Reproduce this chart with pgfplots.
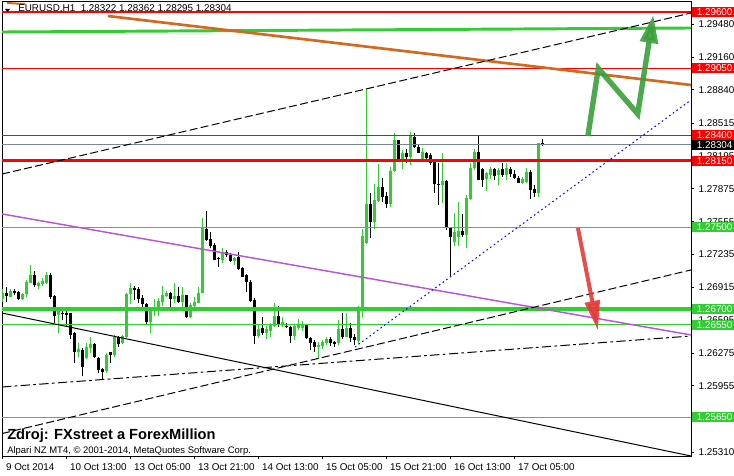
\documentclass[border=0pt]{standalone}
\usepackage{fontspec}
\setmainfont{Liberation Sans}
\usepackage{pgfplots}
\pgfplotsset{compat=1.18}
\usepackage{pgfplotstable}
\usetikzlibrary{arrows.meta}
\definecolor{mtgreen}{RGB}{50,205,50}
\definecolor{mtred}{RGB}{255,0,0}
\definecolor{mtorange}{RGB}{210,105,30}
\definecolor{mtorchid}{RGB}{186,85,211}
\definecolor{mtgray}{RGB}{119,136,153}
\definecolor{arrgreen}{RGB}{58,160,58}
\definecolor{arrred}{RGB}{230,58,58}

% EURUSD H1 candles, bar index i (one bar = one hour), open high low close
\pgfplotstableread{
i o h l c
0 1.26799 1.26896 1.26776 1.26857
2 1.26825 1.26896 1.26818 1.26883
5 1.26802 1.26864 1.26792 1.26851
6 1.26851 1.26987 1.26818 1.26971
7 1.26961 1.27133 1.26955 1.27036
9 1.26929 1.26971 1.26896 1.26955
10 1.26948 1.27007 1.26929 1.26977
11 1.26955 1.27065 1.26948 1.27036
14 1.26646 1.26711 1.26467 1.26685
19 1.26285 1.26376 1.26240 1.26311
21 1.26223 1.26369 1.26214 1.26337
22 1.26327 1.26434 1.26272 1.26363
26 1.26103 1.26272 1.26077 1.26256
28 1.26256 1.26451 1.26240 1.26434
30 1.26369 1.26451 1.26363 1.26441
31 1.26428 1.26857 1.26418 1.26847
32 1.26851 1.26955 1.26753 1.26912
37 1.26581 1.26711 1.26474 1.26685
38 1.26685 1.26805 1.26636 1.26727
39 1.26727 1.26812 1.26636 1.26785
40 1.26776 1.26929 1.26734 1.26841
41 1.26834 1.26883 1.26818 1.26864
43 1.26799 1.26955 1.26760 1.26831
45 1.26776 1.26916 1.26695 1.26841
47 1.26623 1.26760 1.26613 1.26743
48 1.26734 1.26818 1.26727 1.26776
49 1.26767 1.26916 1.26760 1.26864
50 1.26864 1.27588 1.26857 1.27491
55 1.27182 1.27296 1.27150 1.27263
58 1.27172 1.27215 1.27133 1.27198
64 1.26441 1.26548 1.26418 1.26506
66 1.26474 1.26539 1.26418 1.26506
67 1.26493 1.26571 1.26434 1.26548
68 1.26539 1.26766 1.26532 1.26636
70 1.26558 1.26623 1.26532 1.26581
73 1.26441 1.26548 1.26402 1.26539
74 1.26516 1.26604 1.26500 1.26548
75 1.26516 1.26591 1.26493 1.26548
79 1.26337 1.26386 1.26214 1.26353
80 1.26344 1.26402 1.26311 1.26386
81 1.26370 1.26434 1.26353 1.26409
84 1.26370 1.26597 1.26353 1.26506
86 1.26434 1.26669 1.26428 1.26516
89 1.26396 1.26734 1.26363 1.26688
90 1.26688 1.27481 1.26623 1.27416
91 1.27345 1.28846 1.27338 1.27728
93 1.27556 1.27923 1.27481 1.27767
94 1.27761 1.28118 1.27751 1.27897
97 1.27728 1.28086 1.27696 1.28053
98 1.28053 1.28424 1.28043 1.28352
100 1.28151 1.28255 1.28066 1.28229
102 1.28183 1.28433 1.28108 1.28391
105 1.28173 1.28271 1.28140 1.28232
110 1.27913 1.28222 1.27735 1.27952
113 1.27361 1.27637 1.27319 1.27458
114 1.27410 1.27751 1.27319 1.27468
116 1.27426 1.27816 1.27296 1.27790
117 1.27783 1.28125 1.27767 1.28082
118 1.28076 1.28261 1.28060 1.28238
121 1.27969 1.28043 1.27858 1.28027
122 1.28011 1.28092 1.27969 1.28069
124 1.28011 1.28076 1.27913 1.28060
126 1.28011 1.28125 1.27962 1.28076
130 1.27936 1.27994 1.27923 1.27969
131 1.27946 1.28076 1.27930 1.28043
134 1.27832 1.28326 1.27800 1.28322
}\bull

\pgfplotstableread{
i o h l c
1 1.26857 1.26916 1.26776 1.26834
3 1.26883 1.26902 1.26841 1.26864
4 1.26870 1.26883 1.26792 1.26805
8 1.27036 1.27078 1.26916 1.26938
12 1.27036 1.27058 1.26799 1.26825
13 1.26831 1.26841 1.26571 1.26636
15 1.26669 1.26685 1.26597 1.26656
16 1.26662 1.26720 1.26526 1.26646
17 1.26662 1.26662 1.26408 1.26451
18 1.26467 1.26483 1.26175 1.26282
20 1.26305 1.26321 1.26051 1.26142
23 1.26363 1.26376 1.26223 1.26233
24 1.26227 1.26240 1.26077 1.26110
25 1.26116 1.26126 1.26018 1.26090
27 1.26282 1.26288 1.26175 1.26256
29 1.26434 1.26441 1.26337 1.26363
33 1.26912 1.26929 1.26792 1.26896
34 1.26899 1.26916 1.26760 1.26805
35 1.26812 1.26841 1.26711 1.26750
36 1.26750 1.26760 1.26548 1.26581
42 1.26857 1.26874 1.26727 1.26799
44 1.26831 1.26922 1.26760 1.26776
46 1.26841 1.26841 1.26613 1.26623
51 1.27481 1.27660 1.27370 1.27377
52 1.27383 1.27458 1.27296 1.27318
53 1.27328 1.27345 1.27182 1.27182
54 1.27205 1.27215 1.27117 1.27192
56 1.27263 1.27279 1.27215 1.27231
57 1.27231 1.27254 1.27166 1.27176
59 1.27208 1.27263 1.27085 1.27094
60 1.27101 1.27117 1.27013 1.27020
61 1.27036 1.27045 1.26873 1.26971
62 1.26971 1.26987 1.26776 1.26785
63 1.26792 1.26808 1.26363 1.26441
65 1.26516 1.26623 1.26451 1.26467
69 1.26636 1.26734 1.26526 1.26555
71 1.26539 1.26571 1.26516 1.26529
72 1.26532 1.26539 1.26370 1.26441
76 1.26548 1.26548 1.26409 1.26418
77 1.26428 1.26434 1.26305 1.26376
78 1.26386 1.26402 1.26289 1.26337
82 1.26409 1.26428 1.26344 1.26370
83 1.26386 1.26396 1.26337 1.26363
85 1.26506 1.26662 1.26409 1.26434
87 1.26516 1.26565 1.26386 1.26418
88 1.26434 1.26461 1.26353 1.26402
92 1.27728 1.27839 1.27393 1.27556
95 1.27891 1.27978 1.27751 1.27800
96 1.27806 1.27848 1.27686 1.27728
99 1.28352 1.28352 1.28141 1.28151
101 1.28228 1.28261 1.28131 1.28183
103 1.28384 1.28424 1.28271 1.28280
104 1.28287 1.28313 1.28222 1.28228
106 1.28222 1.28238 1.28164 1.28173
107 1.28206 1.28222 1.28108 1.28125
108 1.28157 1.28173 1.27832 1.27923
109 1.27926 1.28131 1.27718 1.27916
111 1.27952 1.27958 1.27475 1.27491
112 1.27500 1.27507 1.27026 1.27403
115 1.27465 1.27631 1.27410 1.27426
119 1.28238 1.28391 1.27962 1.27962
120 1.28066 1.28076 1.27897 1.27962
123 1.28066 1.28082 1.27962 1.28001
125 1.28066 1.28125 1.27994 1.28011
127 1.28066 1.28092 1.27994 1.28020
128 1.28020 1.28060 1.27969 1.27978
129 1.27985 1.28001 1.27930 1.27936
132 1.28043 1.28060 1.27783 1.27865
133 1.27874 1.27913 1.27793 1.27832
135 1.28322 1.28362 1.28295 1.28304
}\bear

\begin{document}
\begin{tikzpicture}[x=0.75pt,y=0.75pt]
\fill[white] (0,0) rectangle (734,475);
\begin{axis}[
    at={(1.5pt,14.25pt)}, anchor=south west,
    scale only axis, width=516.75pt, height=340.5pt,
    xmin=-0.175, xmax=172.075, ymin=1.25271, ymax=1.296975,
    clip mode=individual,
    axis line style={black, line width=0.75pt},
    tick align=outside, major tick length=2.25pt,
    tick style={black, line width=0.75pt},
    xtick pos=left, ytick pos=right, yticklabel pos=right,
    xtick={0,16,...,128},
    xticklabels={9 Oct 2014, 10 Oct 13:00, 13 Oct 05:00, 13 Oct 21:00, 14 Oct 13:00, 15 Oct 05:00, 15 Oct 21:00, 16 Oct 13:00, 17 Oct 05:00},
    ytick={1.29480,1.29160,1.28840,1.28515,1.28195,1.27875,1.27555,1.27235,1.26915,1.26595,1.26275,1.25955,1.25635,1.25310},
    yticklabels={1.29480,1.29160,1.28840,1.28515,1.28195,1.27875,1.27555,1.27235,1.26915,1.26595,1.26275,1.25955,1.25635,1.25310},
    tick label style={font=\fontsize{7.4pt}{8.5pt}\selectfont},
    xticklabel style={anchor=north west, xshift=-1pt},
    yticklabel style={anchor=west},
]
% candles: wicks then bodies
\addplot[draw=none, mark=none, error bars/.cd, y dir=both, y explicit, error mark=none,
    error bar style={draw=mtgreen, line width=0.75pt}]
    table[x=i, y expr={(\thisrow{h}+\thisrow{l})/2}, y error expr={(\thisrow{h}-\thisrow{l})/2}] {\bull};
\addplot[draw=none, mark=none, error bars/.cd, y dir=both, y explicit, error mark=none,
    error bar style={draw=mtgreen, line width=2.25pt}]
    table[x=i, y expr={(\thisrow{o}+\thisrow{c})/2}, y error expr={max(abs(\thisrow{o}-\thisrow{c})/2,0.00004)}] {\bull};
\addplot[draw=none, mark=none, error bars/.cd, y dir=both, y explicit, error mark=none,
    error bar style={draw=black, line width=0.75pt}]
    table[x=i, y expr={(\thisrow{h}+\thisrow{l})/2}, y error expr={(\thisrow{h}-\thisrow{l})/2}] {\bear};
\addplot[draw=none, mark=none, error bars/.cd, y dir=both, y explicit, error mark=none,
    error bar style={draw=black, line width=2.25pt}]
    table[x=i, y expr={(\thisrow{o}+\thisrow{c})/2}, y error expr={max(abs(\thisrow{o}-\thisrow{c})/2,0.00004)}] {\bear};

% horizontal levels
\addplot[mtred, line width=1.5pt] coordinates {(-1,1.29600) (173,1.29600)};
\addplot[mtred, line width=0.75pt] coordinates {(-1,1.29050) (173,1.29050)};
\addplot[mtred, line width=0.75pt] coordinates {(-1,1.28400) (173,1.28400)};
\addplot[mtgray, line width=0.75pt] coordinates {(-1,1.28304) (173,1.28304)};
\addplot[mtred, line width=2.6pt] coordinates {(-1,1.28150) (173,1.28150)};
\addplot[mtgreen, line width=0.75pt] coordinates {(-1,1.27500) (173,1.27500)};
\addplot[mtgreen, line width=3pt] coordinates {(-1,1.26700) (173,1.26700)};
\addplot[mtgreen, line width=0.75pt] coordinates {(-1,1.26550) (173,1.26550)};
\addplot[mtgreen, line width=0.75pt] coordinates {(-1,1.25650) (173,1.25650)};
\addplot[mtgreen, line width=2.2pt] coordinates {(-0.175,1.29405) (172.075,1.29444)};

% trend lines
\addplot[mtorange, line width=2pt] coordinates {(26.3,1.29561) (172.075,1.28888)};
\addplot[mtorange, line width=1.5pt] coordinates {(1.075,1.29688) (5.575,1.29678)};
\addplot[mtorchid, line width=1.1pt] coordinates {(-0.175,1.27631) (172.075,1.26451)};
\addplot[black, line width=0.75pt] coordinates {(-0.175,1.26665) (172.075,1.25271)};
\addplot[black, line width=0.75pt, dash pattern=on 7pt off 2.5pt on 2pt off 2.5pt] coordinates {(-0.175,1.25944) (172.075,1.26441)};
\addplot[black, line width=0.75pt, dash pattern=on 6pt off 2.5pt] coordinates {(-0.175,1.25490) (172.075,1.27085)};
\addplot[black, line width=0.75pt, dash pattern=on 6pt off 2.5pt] coordinates {(-0.175,1.28020) (172.075,1.29590)};
\addplot[blue, line width=0.75pt, dash pattern=on 1.2pt off 2.2pt] coordinates {(88.075,1.26334) (172.075,1.28742)};

% forecast arrows
\addplot[arrgreen, opacity=0.9, line width=4pt, line join=miter, -{Triangle[width=13pt,length=21pt]}]
    coordinates {(146.3,1.28391) (148.9,1.29051) (158.75,1.28606) (162.65,1.29571)};
\addplot[arrred, opacity=0.9, line width=3pt, -{Triangle[width=11pt,length=22pt]}]
    coordinates {(143.8,1.27494) (148.8,1.26499)};

\coordinate (b1) at (axis cs:172.075,1.29600);
\coordinate (b2) at (axis cs:172.075,1.29050);
\coordinate (b3) at (axis cs:172.075,1.28400);
\coordinate (b4) at (axis cs:172.075,1.28304);
\coordinate (b5) at (axis cs:172.075,1.28150);
\coordinate (b6) at (axis cs:172.075,1.27500);
\coordinate (b7) at (axis cs:172.075,1.26700);
\coordinate (b8) at (axis cs:172.075,1.26550);
\coordinate (b9) at (axis cs:172.075,1.25650);
\end{axis}

\tikzset{lbl/.style={anchor=west, xshift=0.75pt, text=white, inner xsep=3.4pt, inner ysep=0pt,
    minimum height=7.5pt, text width=30pt, align=left, font=\fontsize{7.4pt}{8.5pt}\selectfont}}
\node[lbl, fill=mtred] at (b1) {1.29600};
\node[lbl, fill=mtred] at (b2) {1.29050};
\node[lbl, fill=mtred] at (b3) {1.28400};
\node[lbl, fill=black] at (b4) {1.28304};
\node[lbl, fill=mtred] at (b5) {1.28150};
\node[lbl, fill=mtgreen] at (b6) {1.27500};
\node[lbl, fill=mtgreen] at (b7) {1.26700};
\node[lbl, fill=mtgreen] at (b8) {1.26550};
\node[lbl, fill=mtgreen] at (b9) {1.25650};

% header and watermark
\fill (5,466) -- (10,466) -- (7.5,463) -- cycle;
\node[anchor=west, inner sep=0pt, font=\fontsize{7.4pt}{8.5pt}\selectfont] at (18,466) {EURUSD,H1\ \ 1.28322 1.28362 1.28295 1.28304};
\node[anchor=west, inner sep=0pt, font=\fontsize{11pt}{12pt}\selectfont\bfseries] at (7,39) {Zdroj: FXstreet a ForexMillion};
\node[anchor=west, inner sep=0pt, font=\fontsize{7.1pt}{8pt}\selectfont] at (7,24) {Alpari NZ MT4, © 2001-2014, MetaQuotes Software Corp.};

\pgfresetboundingbox
\path[use as bounding box] (0,0) rectangle (734,475);
\end{tikzpicture}
\end{document}
